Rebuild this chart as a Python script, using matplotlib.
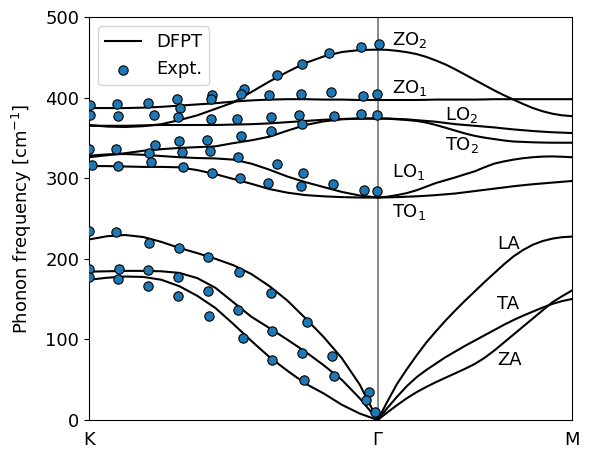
import numpy as np
import matplotlib
matplotlib.use('Agg')
import matplotlib.pyplot as plt

# high-symmetry path K - Gamma - M (path length, Gamma at 1)
x_K, x_G, x_M = 0.0, 1.0, 1.672
n_kg, n_gm = 17, 21

# DFPT bands, sampled along K-Gamma (17 values) then Gamma-M (21 values)
ZA = [174, 176.5, 178, 177.5, 174, 166, 154, 139, 119, 98, 78, 61, 45, 33, 19, 8, 0,
      0, 9.5, 18.5, 27, 34.5, 41, 47, 52.5, 58, 63.5, 69.5, 77, 86, 96, 106, 116, 126, 136, 146, 153.5, 160.5]
TA = [184, 184.5, 185, 185, 184.5, 182.5, 176, 164, 146, 128, 114, 99.5, 84.5, 68, 50, 27, 0,
      0, 15, 29, 42, 53, 62, 70, 78, 85, 92, 98.5, 105, 111.5, 118, 124, 129.5, 134.5, 139.5, 144, 147.5, 150]
LA = [224, 228, 229.5, 227, 221, 213.5, 207, 200, 192, 181, 166, 148, 126, 103, 77, 44, 0,
      0, 23, 45, 63, 80, 96, 110, 123.5, 136, 148, 159.5, 171, 182, 193, 203, 211, 217.5, 222, 225, 226.8, 227.5]
TO1 = [315, 315, 314.5, 314, 314, 313.5, 310, 305, 299, 293, 286.5, 282, 279, 277.5, 276.5, 276, 276,
       276, 276.2, 276.5, 277, 277.5, 278.2, 279, 280, 281, 282.5, 284, 285.5, 287, 288.5, 290, 291.3,
       292.5, 293.5, 294.5, 295.5, 296.5]
LO1 = [328, 329.5, 330, 329, 327.5, 326, 325, 324.5, 323, 318, 310.5, 302, 295, 289, 283, 278.5, 276,
       276, 277, 279, 281.5, 285, 289.5, 294, 297.5, 301, 304.8, 308.5, 313.5, 318, 320.8, 323, 324.8,
       326, 326.8, 327, 326.6, 326]
TO2 = [326, 328.5, 331, 334, 336, 337.5, 338.5, 339.5, 343.5, 347, 351.5, 359, 366, 370.5, 373, 374, 374,
       374, 373.8, 373, 372.2, 371, 369, 366, 362.5, 359, 355.5, 352.5, 350.3, 348.5, 346.8, 345.5, 345,
       344.5, 344.2, 344, 344, 344]
LO2 = [365, 365, 365, 365.5, 366, 366, 366, 366, 366.5, 367, 368, 369.5, 371, 372.5, 373.5, 374, 374,
       374, 374, 373.5, 373, 372, 371, 370, 368.5, 367, 366, 365, 364, 363, 361.7, 360.5, 359.5,
       358.5, 357.7, 357, 356.5, 356]
ZO1 = [387, 387, 387, 387.5, 388.5, 390, 391.5, 393, 395, 396.5, 397.5, 398, 398, 397.5, 397.5, 397, 397,
       397, 397, 397, 397, 397, 397.2, 397.5, 397.5, 397.5, 397.5, 397.5, 397.7, 398, 398, 398, 398,
       398, 398, 398, 398, 398]
ZO2 = [366, 364, 363.5, 364.5, 367, 372, 378, 386, 394, 407, 420, 432, 443, 451, 456.5, 459, 459.5,
       459.5, 459.2, 458, 456.3, 454, 450.5, 446, 441, 435, 428.5, 422, 415.5, 409, 403, 397.5, 392,
       387, 383, 380, 378, 377]
bands = [ZA, TA, LA, TO1, LO1, TO2, LO2, ZO1, ZO2]

# experimental points (Gamma = 1)
expt_q = [0.003, 0.003, 0.001, 0.009, 0.001, 0.001, 0.001,
          0.096, 0.099, 0.094, 0.101, 0.094, 0.105, 0.099,
          0.205, 0.225, 0.229, 0.208, 0.215, 0.208, 0.203, 0.203,
          0.304, 0.315, 0.309, 0.312, 0.321, 0.327, 0.312, 0.307, 0.307,
          0.427, 0.422, 0.422, 0.410, 0.419, 0.425, 0.411, 0.411, 0.417,
          0.537, 0.525, 0.514, 0.525, 0.517, 0.523, 0.521, 0.515, 0.534,
          0.650, 0.623, 0.629, 0.629, 0.650, 0.621, 0.630, 0.635, 0.635,
          0.739, 0.733, 0.728, 0.739, 0.742, 0.733, 0.756, 0.739, 0.745,
          0.831, 0.837, 0.850, 0.846, 0.843, 0.850,
          0.941, 0.948, 0.941, 0.953, 0.971, 0.959,
          1.003, 0.997, 0.997, 0.999, 0.991]
expt_w = [391, 378, 336, 316, 235, 187, 178,
          392, 377.5, 336, 315.5, 233.6, 187, 174.5,
          393, 379, 341, 331.6, 320, 220, 186.5, 166,
          398, 386.7, 375.5, 346, 333, 314, 213, 178, 154,
          403.6, 397.9, 373.4, 347.4, 333.7, 306, 201.8, 160.4, 129.4,
          411, 404, 373.4, 352.7, 326.7, 299.8, 183.6, 136.5, 102.2,
          428.4, 403.2, 375.5, 358.6, 317.6, 293.6, 158, 110.8, 74.4,
          441.7, 404, 378, 366.8, 306, 290.7, 122, 83.5, 49.6,
          455, 406.4, 377.5, 292.4, 79.4, 55,
          462.3, 402.4, 379.2, 285.4, 35.1, 24.8,
          466, 404, 378.4, 284.5, 9.5]

labels = ['ZO$_2$', 'ZO$_1$', 'LO$_2$', 'TO$_2$', 'LO$_1$', 'TO$_1$', 'LA', 'TA', 'ZA']
label_x = [1.05, 1.05, 1.233, 1.233, 1.05, 1.05, 1.413, 1.413, 1.413]
label_y = [471, 412, 378, 341, 308, 258, 218, 144, 74]

q = np.concatenate([np.linspace(x_K, x_G, n_kg), np.linspace(x_G, x_M, n_gm)])

fig = plt.figure(figsize=(5.9, 4.49), dpi=100)
ax = fig.add_axes([0.151, 0.0646, 0.818, 0.8976])

ax.axvline(x_G, color='grey', lw=1.3, zorder=0)
for i, b in enumerate(bands):
    ax.plot(q, b, color='black', lw=1.5, label='DFPT' if i == 0 else None)
ax.scatter(expt_q, expt_w, s=45, color='#1f77b4', edgecolor='black', lw=0.8,
           zorder=3, label='Expt.')

for lab, lx, ly in zip(labels, label_x, label_y):
    ax.text(lx, ly, lab, fontsize=13, ha='left', va='center')

ax.set_xlim(x_K, x_M)
ax.set_ylim(0, 500)
ax.set_xticks([x_K, x_G, x_M])
ax.set_xticklabels(['K', '\u0393', 'M'])
ax.set_yticks([0, 100, 200, 300, 400, 500])
ax.tick_params(axis='both', labelsize=13)
ax.tick_params(axis='x', length=0, pad=8)
ax.set_ylabel('Phonon frequency [cm$^{-1}$]', fontsize=13, labelpad=8)
ax.legend(loc='upper left', fontsize=13)

fig.savefig('out.png', dpi=100)
